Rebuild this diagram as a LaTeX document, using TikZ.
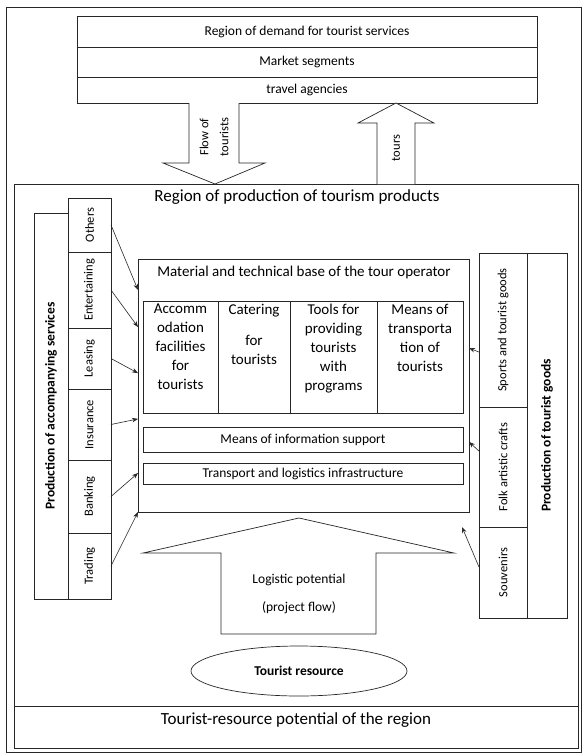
\documentclass[tikz,border=0pt]{standalone}
\usepackage{fontspec}
\setmainfont{Carlito}
\usetikzlibrary{arrows.meta,calc,shapes.geometric}
\begin{document}
\begin{tikzpicture}[x=1pt,y=-1pt,
  line width=0.7pt,
  ln/.style={draw=black!85},
  bx/.style={draw=black!85, anchor=north west, inner sep=0pt, outer sep=0pt},
  vlab/.style={rotate=90, inner sep=0pt, align=center, font=\fontsize{12.5}{15}\selectfont},
  blab/.style={rotate=90, inner sep=0pt, font=\fontsize{13.5}{16}\selectfont\bfseries},
  ctext/.style={anchor=north, align=center, inner sep=0pt, font=\fontsize{15}{19}\selectfont},
  mtext/.style={inner sep=0pt, font=\fontsize{13.5}{16}\selectfont},
  conn/.style={draw=black!85, line width=0.6pt, -{Stealth[length=6pt,width=4.5pt]}},
  blk/.style={draw=black!85, fill=white, line width=0.7pt}
]
\useasboundingbox (0,0) rectangle (582,753);

% outer frame
\draw[ln] (6.5,7) rectangle (581,752);

% region of production
\node[bx, minimum width=564pt, minimum height=564pt] (region) at (14,184) {};
\node[bx, minimum width=564pt, minimum height=42pt] (potential) at (14,706) {};
\node[inner sep=0pt, font=\fontsize{17}{20}\selectfont] (potT) at (296,720) {Tourist-resource potential of the region};
\node[inner sep=0pt, font=\fontsize{17}{20}\selectfont] (regionT) at (297,197) {Region of production of tourism products};

% top boxes
\node[bx, mtext, minimum width=460pt, minimum height=31pt] (demand) at (77,16) {Region of demand for tourist services};
\node[bx, mtext, minimum width=460pt, minimum height=30pt] (segments) at (77,47) {Market segments};
\node[bx, mtext, minimum width=460pt, minimum height=26pt] (agencies) at (77,77) {travel agencies};

% block arrows between regions
\draw[blk] (189,103) -- (189,163) -- (163,163) -- (215,184) -- (265,163) -- (239,163) -- (239,103);
\node[vlab] (flowT) at (214,137) {Flow of\\[5pt]tourists};
\draw[blk] (377,184) -- (377,123) -- (358,123) -- (396,103) -- (434,123) -- (415,123) -- (415,184);
\node[vlab] (toursT) at (396,148) {tours};

% accompanying services
\node[bx, minimum width=34pt, minimum height=386pt] (accsvc) at (34,213) {};
\node[blab] (accsvcT) at (accsvc.center) {Production of accompanying services};
\node[bx, minimum width=43pt, minimum height=54pt] (others) at (68,198) {};
\node[bx, minimum width=43pt, minimum height=76pt] (entert) at (68,252) {};
\node[bx, minimum width=43pt, minimum height=61pt] (leasing) at (68,328) {};
\node[bx, minimum width=43pt, minimum height=71pt] (insur) at (68,389) {};
\node[bx, minimum width=43pt, minimum height=73pt] (banking) at (68,460) {};
\node[bx, minimum width=43pt, minimum height=66pt] (trading) at (68,533) {};
\node[vlab] (othersT) at (others.center) {Others};
\node[vlab] (entertT) at (entert.center) {Entertaining};
\node[vlab] (leasingT) at (leasing.center) {Leasing};
\node[vlab] (insurT) at (insur.center) {Insurance};
\node[vlab] (bankingT) at (banking.center) {Banking};
\node[vlab] (tradingT) at (trading.center) {Trading};

% tourist goods
\node[bx, minimum width=40pt, minimum height=365pt] (goods) at (527,253) {};
\node[blab] (goodsT) at (goods.center) {Production of tourist goods};
\node[bx, minimum width=48pt, minimum height=154pt] (sports) at (479,253) {};
\node[bx, minimum width=48pt, minimum height=120pt] (folk) at (479,407) {};
\node[bx, minimum width=48pt, minimum height=91pt] (souv) at (479,527) {};
\node[vlab] (sportsT) at (sports.center) {Sports and tourist goods};
\node[vlab] (folkT) at (folk.center) {Folk artistic crafts};
\node[vlab] (souvT) at (souv.center) {Souvenirs};

% material base
\node[bx, minimum width=331pt, minimum height=253pt] (mat) at (138,259) {};
\node[inner sep=0pt, font=\fontsize{15}{18}\selectfont] (matT) at (304,272) {Material and technical base of the tour operator};
\node[bx, minimum width=75pt, minimum height=112pt] (acc) at (143,301) {};
\node[bx, minimum width=72pt, minimum height=112pt] (cat) at (218,301) {};
\node[bx, minimum width=87pt, minimum height=112pt] (tools) at (290,301) {};
\node[bx, minimum width=86pt, minimum height=112pt] (means) at (377,301) {};
\node[ctext] (accT) at ([yshift=-3pt]acc.north) {Accomm\\odation\\facilities\\for\\tourists};
\node[ctext] (catT) at ([yshift=-3pt]cat.north) {Catering\\[12pt]for\\tourists};
\node[ctext] (toolsT) at ([yshift=-3pt]tools.north) {Tools for\\providing\\tourists\\with\\programs};
\node[ctext] (meansT) at ([yshift=-3pt]means.north) {Means of\\transporta\\tion of\\tourists};
\node[bx, mtext, minimum width=320pt, minimum height=25pt] (info) at (143,427) {Means of information support};
\node[bx, mtext, minimum width=320pt, minimum height=21pt] (transp) at (143,463) {Transport and logistics infrastructure};

% connectors from accompanying services
\draw[conn] (others.east) -- ($(mat.north west)!0.1225!(mat.south west)$);
\draw[conn] (entert.east) -- ($(mat.north west)!0.269!(mat.south west)$);
\draw[conn] (leasing.east) -- ($(mat.north west)!0.451!(mat.south west)$);
\draw[conn] (insur.east) -- ($(mat.north west)!0.632!(mat.south west)$);
\draw[conn] (banking.east) -- ($(mat.north west)!0.846!(mat.south west)$);
\draw[conn] (trading.east) -- (mat.south west);

% connectors from tourist goods
\coordinate (souvEnd) at (462,527);
\draw[conn] ($(sports.north west)!0.643!(sports.south west)$) -- ($(mat.north east)!0.352!(mat.south east)$);
\draw[conn] ($(folk.north west)!0.367!(folk.south west)$) -- ($(mat.north east)!0.723!(mat.south east)$);
\draw[conn] ($(souv.north west)!0.44!(souv.south west)$) -- (souvEnd);

% logistic potential arrow
\draw[blk] (221,634) -- (221,553) -- (143,553) -- (299,518) -- (454,553) -- (376,553) -- (376,634) -- cycle;
\node[mtext] (logT) at (299,580) {Logistic potential};
\node[mtext] (projT) at (299,608) {(project flow)};

% tourist resource
\node[draw=black!85, ellipse, minimum width=216pt, minimum height=50pt, inner sep=0pt, font=\fontsize{13.5}{16}\selectfont\bfseries] (res) at (299,671) {Tourist resource};
\end{tikzpicture}
\end{document}
